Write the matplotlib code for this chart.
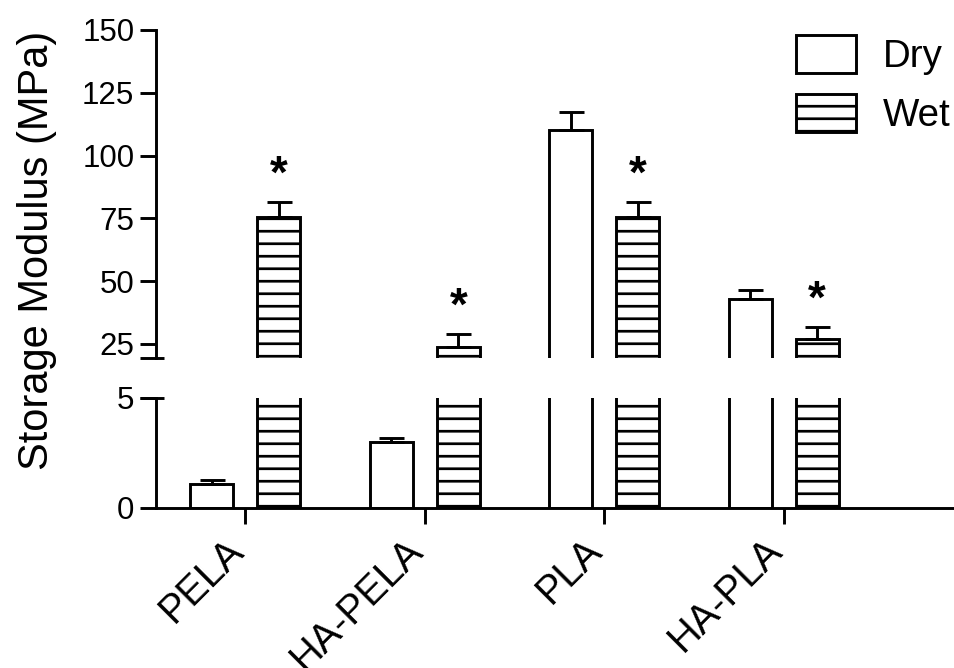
import numpy as np
import matplotlib.pyplot as plt

# --- dados ---
materiais = ['PELA', 'HA-PELA', 'PLA', 'HA-PLA']
seco = [1.1, 3.0, 110.2, 42.9]
seco_dp = [0.15, 0.17, 7.0, 3.5]
umido = [75.5, 23.7, 75.4, 26.9]
umido_dp = [6.0, 5.2, 6.0, 4.7]
signif_umido = [True, True, True, True]

plt.rcParams['font.family'] = ['Liberation Sans', 'DejaVu Sans']
plt.rcParams['hatch.linewidth'] = 2.6
plt.rcParams['hatch.color'] = 'black'

DPI = 75
LW = 2.8
fig = plt.figure(figsize=(954 / DPI, 668 / DPI), dpi=DPI)
ax_sup = fig.add_axes([0.1632, 0.4645, 0.8368, 0.4906])
ax_inf = fig.add_axes([0.1632, 0.2400, 0.8368, 0.1642])

x = np.arange(len(materiais))
desloc = 0.187
larg = 0.24

for ax in (ax_sup, ax_inf):
    ax.bar(x - desloc, seco, larg, color='white', edgecolor='black',
           linewidth=LW, label='Dry', zorder=2)
    ax.bar(x + desloc, umido, larg, color='white', edgecolor='black',
           linewidth=LW, hatch='-', label='Wet', zorder=2)
    ax.errorbar(x - desloc, seco, yerr=[np.zeros(4), seco_dp], fmt='none',
                ecolor='black', elinewidth=LW, capsize=12, capthick=LW, zorder=3)
    ax.errorbar(x + desloc, umido, yerr=[np.zeros(4), umido_dp], fmt='none',
                ecolor='black', elinewidth=LW, capsize=12, capthick=LW, zorder=3)
    ax.set_xlim(-0.5, 3.95)
    for lado in ('top', 'right'):
        ax.spines[lado].set_visible(False)
    ax.spines['left'].set_linewidth(LW)
    ax.spines['bottom'].set_linewidth(LW)
    ax.tick_params(axis='y', direction='out', length=15.5, width=LW,
                   labelsize=30, pad=5)
    ax.set_facecolor('none')

# eixo superior (quebrado)
ax_sup.set_ylim(19.5, 150)
ax_sup.set_yticks([25, 50, 75, 100, 125, 150])
ax_sup.spines['bottom'].set_visible(False)
ax_sup.set_xticks([])

# eixo inferior
ax_inf.set_ylim(0, 5)
ax_inf.set_yticks([0, 5])
ax_inf.set_xticks(x)
ax_inf.set_xticklabels(materiais, rotation=45, ha='right', va='baseline',
                       rotation_mode='anchor', fontsize=38)
ax_inf.tick_params(axis='x', direction='out', length=15.5, width=LW, pad=27)

# marcas da quebra no eixo y
ax_sup.plot([-0.02, 0.01], [0, 0], color='black', lw=LW,
            transform=ax_sup.transAxes, clip_on=False, solid_capstyle='butt')
ax_inf.plot([-0.02, 0.01], [1, 1], color='black', lw=LW,
            transform=ax_inf.transAxes, clip_on=False, solid_capstyle='butt')

# asteriscos de significância
for xi, v, dp, s in zip(x, umido, umido_dp, signif_umido):
    if s:
        ax_sup.annotate('*', (xi + desloc, v + dp), xytext=(0, 14),
                        textcoords='offset points', ha='center', va='baseline',
                        fontsize=44, fontweight='bold')

fig.text(37 / 954, 1 - 250 / 668, 'Storage Modulus (MPa)', rotation=90,
         ha='center', va='center', fontsize=40)

h, l = ax_sup.get_legend_handles_labels()
fig.legend(h, l, loc='upper left', bbox_to_anchor=(796 / 954, 1 - 35 / 668),
           frameon=False, borderpad=0, borderaxespad=0, fontsize=37,
           handlelength=1.56, handleheight=1.12, handletextpad=0.7,
           labelspacing=0.5)

fig.savefig('out.png', dpi=DPI)
